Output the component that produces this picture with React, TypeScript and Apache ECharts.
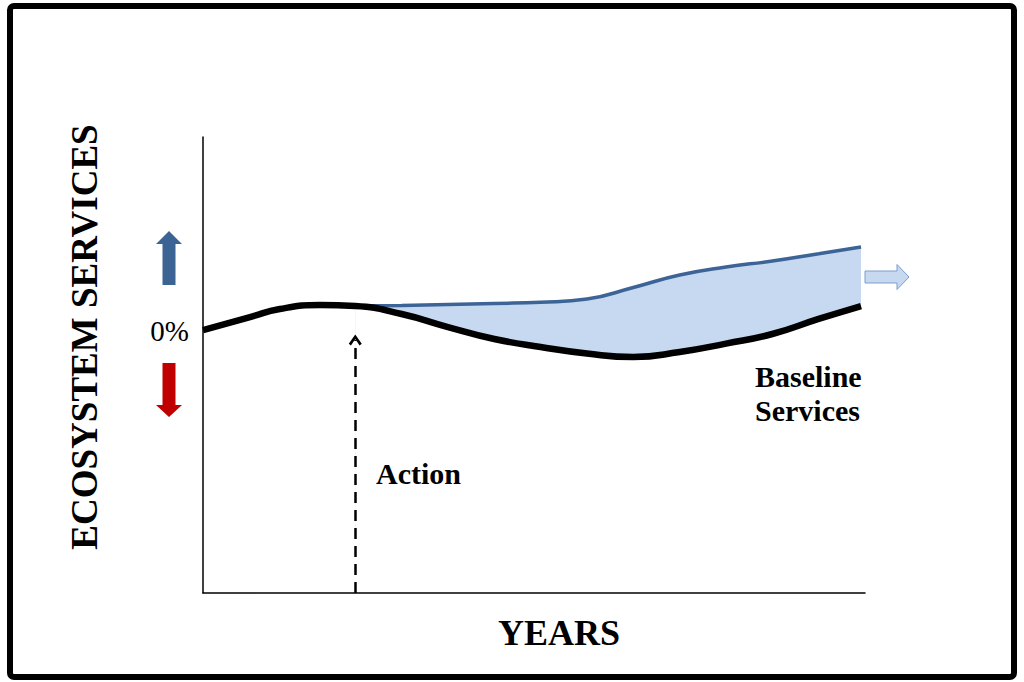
import React, { useEffect, useRef } from "react";
import * as echarts from "echarts";

// Years (relative scale, 0 = start of record)
const YEARS = [0, 7.1, 11.6, 17.7, 23, 30, 37, 44, 51, 58, 65, 72, 79, 86, 93, 99.4];
// Baseline ecosystem services (% change)
const BASELINE = [0.17, 3.0, 4.78, 5.65, 5.43, 3.68, 0.83, -1.8, -3.56, -4.98, -5.75, -4.65, -2.81, -0.7, 2.6, 5.43];
// Index of the year where action is taken
const ACTION_INDEX = 4;
// Services with action, from the action year onward
const WITH_ACTION = [5.43, 5.57, 5.79, 6.01, 6.25, 6.97, 9.5, 12.23, 13.99, 15.3, 16.9, 18.37];
// Axis range
const X_RANGE = [0, 100];
const Y_RANGE = [-57.5, 42.5];
const ZERO_TICK = [0];
const ARROW_TIP = -2.0;
const FILL_FLOOR = -45;

const FONT = '"Liberation Serif", "Times New Roman", serif';
const SMOOTH = 0.5;

export default function App() {
  const ref = useRef<HTMLDivElement>(null);

  useEffect(() => {
    document.body.style.margin = "0";
    const chart = echarts.init(ref.current!, null, { renderer: "svg" });

    const actionYears = YEARS.slice(ACTION_INDEX);
    const baseAfter = BASELINE.slice(ACTION_INDEX);
    const withActionData = actionYears.map((x, i) => [x, WITH_ACTION[i]]);
    const maskData = actionYears.map((x, i) => [x, baseAfter[i]]);
    const baselineData = YEARS.map((x, i) => [x, BASELINE[i]]);
    const actionX = YEARS[ACTION_INDEX];

    const chevron = "path://M5,0 L10,8.4 L8.3,10 L5,4.2 L1.7,10 L0,8.4 Z";

    chart.setOption({
      animation: false,
      backgroundColor: "#ffffff",
      grid: { left: 203, top: 137, width: 662, height: 456, containLabel: false, outerBoundsMode: "none" },
      xAxis: {
        type: "value",
        min: X_RANGE[0],
        max: X_RANGE[1],
        axisLine: { show: true, onZero: false, lineStyle: { color: "#000", width: 1.5 } },
        axisTick: { show: false },
        axisLabel: { show: false },
        splitLine: { show: false },
        name: "YEARS",
        nameLocation: "middle",
        nameGap: 22,
        nameTextStyle: {
          fontSize: 36,
          fontWeight: "bold",
          fontFamily: FONT,
          color: "#000",
          padding: [0, 0, 0, 50],
        },
      },
      yAxis: {
        type: "value",
        min: Y_RANGE[0],
        max: Y_RANGE[1],
        axisLine: { show: true, onZero: false, lineStyle: { color: "#000", width: 1.5 } },
        axisTick: { show: false },
        splitLine: { show: false },
        axisLabel: {
          show: true,
          customValues: ZERO_TICK,
          formatter: (v: number) => `${v}%`,
          fontSize: 29,
          fontFamily: FONT,
          color: "#000",
          margin: 14,
        },
        name: "ECOSYSTEM SERVICES",
        nameLocation: "middle",
        nameRotate: 90,
        nameGap: 100,
        nameTextStyle: {
          fontSize: 37,
          fontWeight: "bold",
          fontFamily: FONT,
          color: "#000",
          padding: [0, 0, 0, 56],
        },
      },
      series: [
        {
          name: "With action",
          type: "line",
          data: withActionData,
          smooth: SMOOTH,
          symbol: "none",
          lineStyle: { color: "#3c6496", width: 3.5 },
          areaStyle: { color: "#c6d9f1", opacity: 1, origin: FILL_FLOOR },
          z: 2,
        },
        {
          name: "mask",
          type: "line",
          data: maskData,
          smooth: SMOOTH,
          symbol: "none",
          lineStyle: { opacity: 0, width: 0 },
          areaStyle: { color: "#ffffff", opacity: 1, origin: FILL_FLOOR },
          silent: true,
          z: 3,
        },
        {
          name: "Baseline Services",
          type: "line",
          data: baselineData,
          smooth: SMOOTH,
          symbol: "none",
          lineStyle: { color: "#000", width: 6.5 },
          z: 4,
          markLine: {
            silent: true,
            symbol: ["none", chevron],
            symbolSize: [13, 11],
            label: { show: false },
            lineStyle: { color: "#000", width: 2.5, type: [11, 7] },
            data: [[{ coord: [actionX, Y_RANGE[0]] }, { coord: [actionX, ARROW_TIP] }]],
          },
        },
      ],
      graphic: [
        {
          type: "rect",
          z: 100,
          shape: { x: 10, y: 6, width: 1004, height: 671, r: 4 },
          style: { fill: "none", stroke: "#000", lineWidth: 6 },
          silent: true,
        },
        {
          type: "polygon",
          z: 100,
          shape: {
            points: [
              [169, 231], [182, 244], [175.5, 244], [175.5, 285], [162.5, 285], [162.5, 244], [156, 244],
            ],
          },
          style: { fill: "#3b6394" },
        },
        {
          type: "polygon",
          z: 100,
          shape: {
            points: [
              [162.5, 363], [175.5, 363], [175.5, 405], [182, 405], [169, 417], [156, 405], [162.5, 405],
            ],
          },
          style: { fill: "#c00000" },
        },
        {
          type: "polygon",
          z: 100,
          shape: {
            points: [
              [865, 271], [897, 271], [897, 264.5], [909, 277], [897, 289.5], [897, 283], [865, 283],
            ],
          },
          style: { fill: "#c6d9f1", stroke: "#7c9dcc", lineWidth: 1 },
        },
        {
          type: "text",
          z: 100,
          style: {
            text: "Action",
            x: 376,
            y: 473,
            verticalAlign: "middle",
            fontSize: 30,
            fontWeight: "bold",
            fontFamily: FONT,
            fill: "#000",
          },
        },
        {
          type: "text",
          z: 100,
          style: {
            text: "Baseline\nServices",
            x: 755,
            y: 393,
            verticalAlign: "middle",
            lineHeight: 34,
            fontSize: 30,
            fontWeight: "bold",
            fontFamily: FONT,
            fill: "#000",
          },
        },
      ],
    });

    return () => chart.dispose();
  }, []);

  return <div ref={ref} style={{ width: 1024, height: 682 }} />;
}
